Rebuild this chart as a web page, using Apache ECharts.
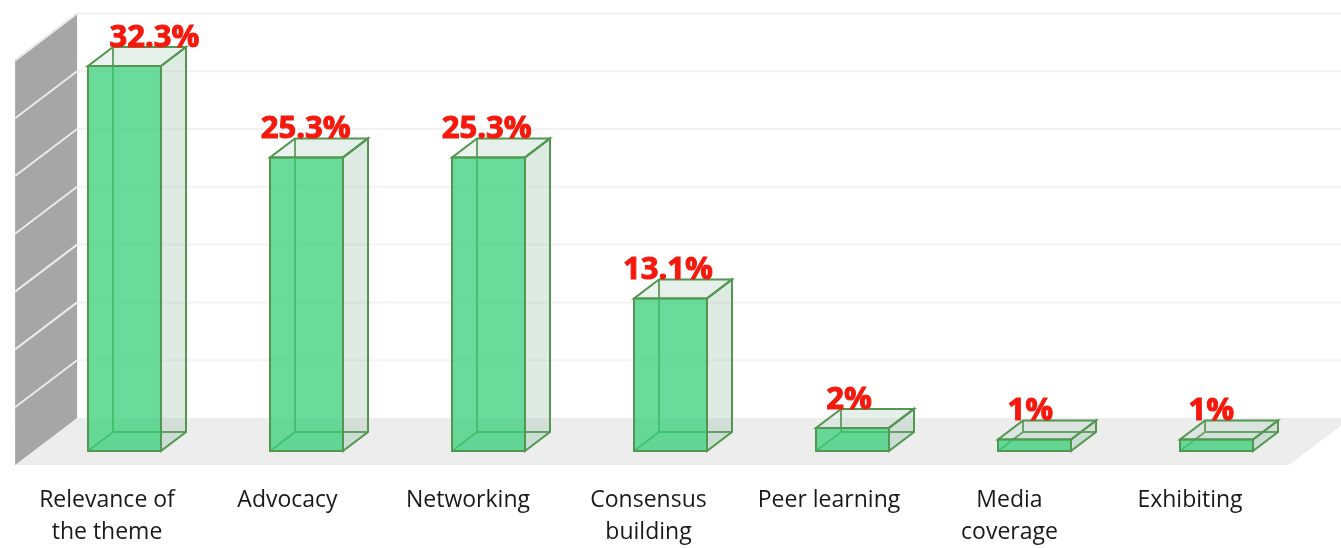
<!DOCTYPE html>
<html>
<head>
<meta charset="utf-8">
<style>html,body{margin:0;padding:0;background:#fff}#c{width:1341px;height:548px}</style>
<script src="https://cdn.jsdelivr.net/npm/echarts@6/dist/echarts.min.js"></script>
</head>
<body>
<div id="c"></div>
<script>
const categories = ['Relevance of\nthe theme','Advocacy','Networking','Consensus\nbuilding','Peer learning','Media\ncoverage','Exhibiting'];
const barValues = [33.3, 25.4, 25.4, 13.2, 2, 1, 1];
const valueLabels = ['32.3%','25.3%','25.3%','13.1%','2%','1%','1%'];
const yTicks = [5,10,15,20,25,30,35];

const GRID = {left:33.5, width:1274, top:46.4, height:404.6};
const LABEL_GRID = {left:16.75, width:1263.5, top:46.4, height:404.6};
const BAR_DEPTH = [25, -19], FRONT = [-18.4, 14], BACK = [43.6, -33];
const LABEL_RISE = 28;
const labelShift = i => i === 0 ? 30 : -i * 0.85;
const EDGE = '#52964f';

const shift = (p, d) => [p[0] + d[0], p[1] + d[1]];
const poly = (points, fill, stroke, lw) => ({
  type:'polygon', shape:{points},
  style:{fill:fill || 'none', stroke:stroke || 'none', lineWidth:lw || 0}
});
const line = (a, b, stroke, lw) => ({
  type:'line', shape:{x1:a[0],y1:a[1],x2:b[0],y2:b[1]}, style:{stroke, lineWidth:lw}
});

function renderFrame(params, api) {
  const cs = params.coordSys;
  const y0 = api.coord([0, 0])[1], yTop = api.coord([0, 35])[1];
  const L = cs.x, R = cs.x + cs.width;
  return {type:'group', children:[
    poly([shift([L,y0],FRONT), shift([R,y0],FRONT), shift([R,y0],BACK), shift([L,y0],BACK)], '#ededed'),
    poly([shift([L,y0],FRONT), shift([L,y0],BACK), shift([L,yTop],BACK), shift([L,yTop],FRONT)], '#a6a6a6')
  ]};
}
function renderGridline(params, api) {
  const cs = params.coordSys;
  const y = api.coord([0, api.value(1)])[1];
  const L = cs.x, R = cs.x + cs.width;
  return {type:'group', children:[
    line(shift([L,y],FRONT), shift([L,y],BACK), '#ebebeb', 2),
    line(shift([L,y],BACK), shift([R,y],BACK), '#f2f2f2', 2)
  ]};
}
function renderBar(params, api) {
  const i = api.value(0);
  const c = api.coord([i, api.value(1)]);
  const base = api.coord([i, 0]);
  const w = api.size([1, 0])[0] * 0.401;
  const fl = [c[0]-w/2, c[1]], fr = [c[0]+w/2, c[1]];
  const bl = [base[0]-w/2, base[1]], br = [base[0]+w/2, base[1]];
  const bfl = shift(fl, BAR_DEPTH), bfr = shift(fr, BAR_DEPTH);
  const bbl = shift(bl, BAR_DEPTH), bbr = shift(br, BAR_DEPTH);
  return {type:'group', children:[
    poly([bl,br,bbr,bbl], 'rgba(190,225,205,0.35)'),
    poly([bfl,bfr,bbr,bbl], 'rgba(200,225,210,0.10)'),
    line(bfl, bbl, EDGE, 2),
    line(bbl, bbr, EDGE, 2),
    line(bl, bbl, EDGE, 2),
    poly([fr,bfr,bbr,br], 'rgba(150,190,165,0.27)', EDGE, 2),
    poly([fl,fr,bfr,bfl], 'rgba(175,205,190,0.25)', EDGE, 2),
    poly([fl,fr,br,bl], 'rgba(60,208,125,0.76)', EDGE, 2),
    {type:'text', x:c[0]+labelShift(i), y:c[1]-LABEL_RISE, style:{
      text:valueLabels[i], fill:'#f5190d', stroke:'#f5190d', lineWidth:1,
      font:'bold 31px "Open Sans"', align:'center', verticalAlign:'middle'
    }}
  ]};
}

const chart = echarts.init(document.getElementById('c'), null, {renderer:'canvas'});
chart.setOption({
  animation:false,
  backgroundColor:'#ffffff',
  grid:[
    {...GRID, containLabel:false},
    {...LABEL_GRID, containLabel:false}
  ],
  xAxis:[
    {type:'category', gridIndex:0, data:categories, show:false},
    {type:'category', gridIndex:1, data:categories,
      axisLine:{show:false}, axisTick:{show:false}, splitLine:{show:false},
      axisLabel:{show:true, interval:0, margin:34, color:'#1a1a1a',
        fontFamily:'Open Sans', fontSize:23, lineHeight:32, hideOverlap:false}}
  ],
  yAxis:[
    {type:'value', gridIndex:0, min:0, max:35, interval:5, show:false},
    {type:'value', gridIndex:1, min:0, max:35, interval:5, show:false}
  ],
  series:[
    {type:'custom', name:'frame', xAxisIndex:0, yAxisIndex:0, silent:true, clip:false, z:1,
      data:[[0,0]], encode:{x:0,y:1}, renderItem:renderFrame},
    {type:'custom', name:'gridlines', xAxisIndex:0, yAxisIndex:0, silent:true, clip:false, z:2,
      data:yTicks.map(v=>[0,v]), encode:{x:0,y:1}, renderItem:renderGridline},
    {type:'custom', name:'bars', xAxisIndex:0, yAxisIndex:0, silent:true, clip:false, z:3,
      data:barValues.map((v,i)=>[i,v]), encode:{x:0,y:1}, renderItem:renderBar}
  ]
});
</script>
</body>
</html>
